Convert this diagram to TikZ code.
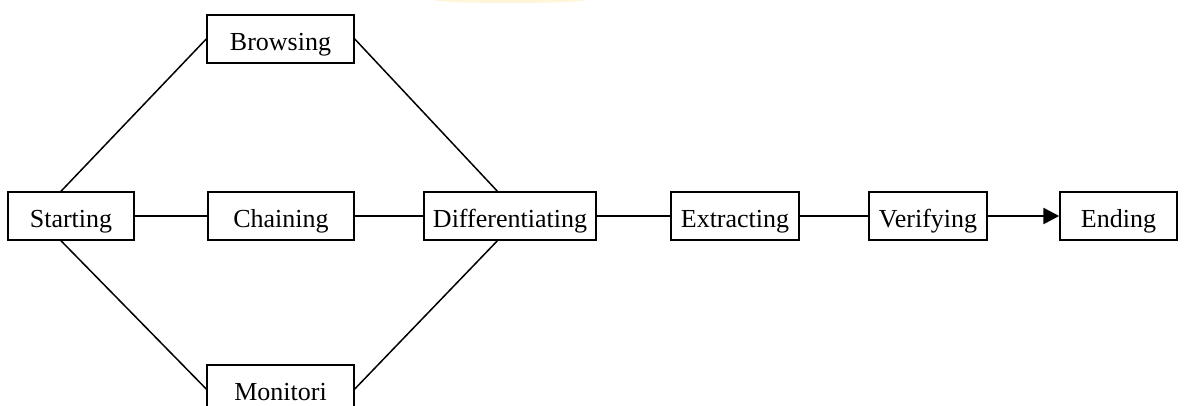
\documentclass[tikz,border=0pt]{standalone}
\usepackage{fontspec}
\setmainfont{Liberation Serif}
\usetikzlibrary{arrows.meta}
\begin{document}
\begin{tikzpicture}[x=1pt,y=-1pt,font=\fontsize{26}{30}\selectfont,>={Triangle[length=16pt,width=16pt]},
  st/.style={draw,line width=1.5pt,inner xsep=0pt,inner ysep=0pt,text height=35pt,text depth=13pt,minimum width=#1},
  st/.default=146pt]
  \useasboundingbox (0,0) rectangle (1185,405);
  \fill[orange!50!yellow,opacity=0.15] (510,0) ellipse (75 and 3);
  \node[st=126pt] (start) at (71,216) {Starting};
  \node[st=147pt] (brow) at (280.5,39) {Browsing};
  \node[st] (chain) at (281,216) {Chaining};
  \node[st=147pt] (moni) at (280.5,389) {Monitori};
  \node[st=172pt] (diff) at (510,216) {Differentiating};
  \node[st=128pt] (extr) at (735,216) {Extracting};
  \node[st=118pt] (veri) at (928,216) {Verifying};
  \node[st=117pt] (ending) at (1118.5,216) {Ending};
  \draw[line width=1.5pt] (start.112)--(brow.west) (brow.east)--(diff.117)
    (start.-112)--(moni.west) (moni.east)--(diff.-117);
  \foreach \a/\b in {start/chain,chain/diff,diff/extr,extr/veri} \draw[line width=1.5pt] (\a)--(\b);
  \draw[->,line width=2.6pt] (veri)--(ending);
\end{tikzpicture}
\end{document}
